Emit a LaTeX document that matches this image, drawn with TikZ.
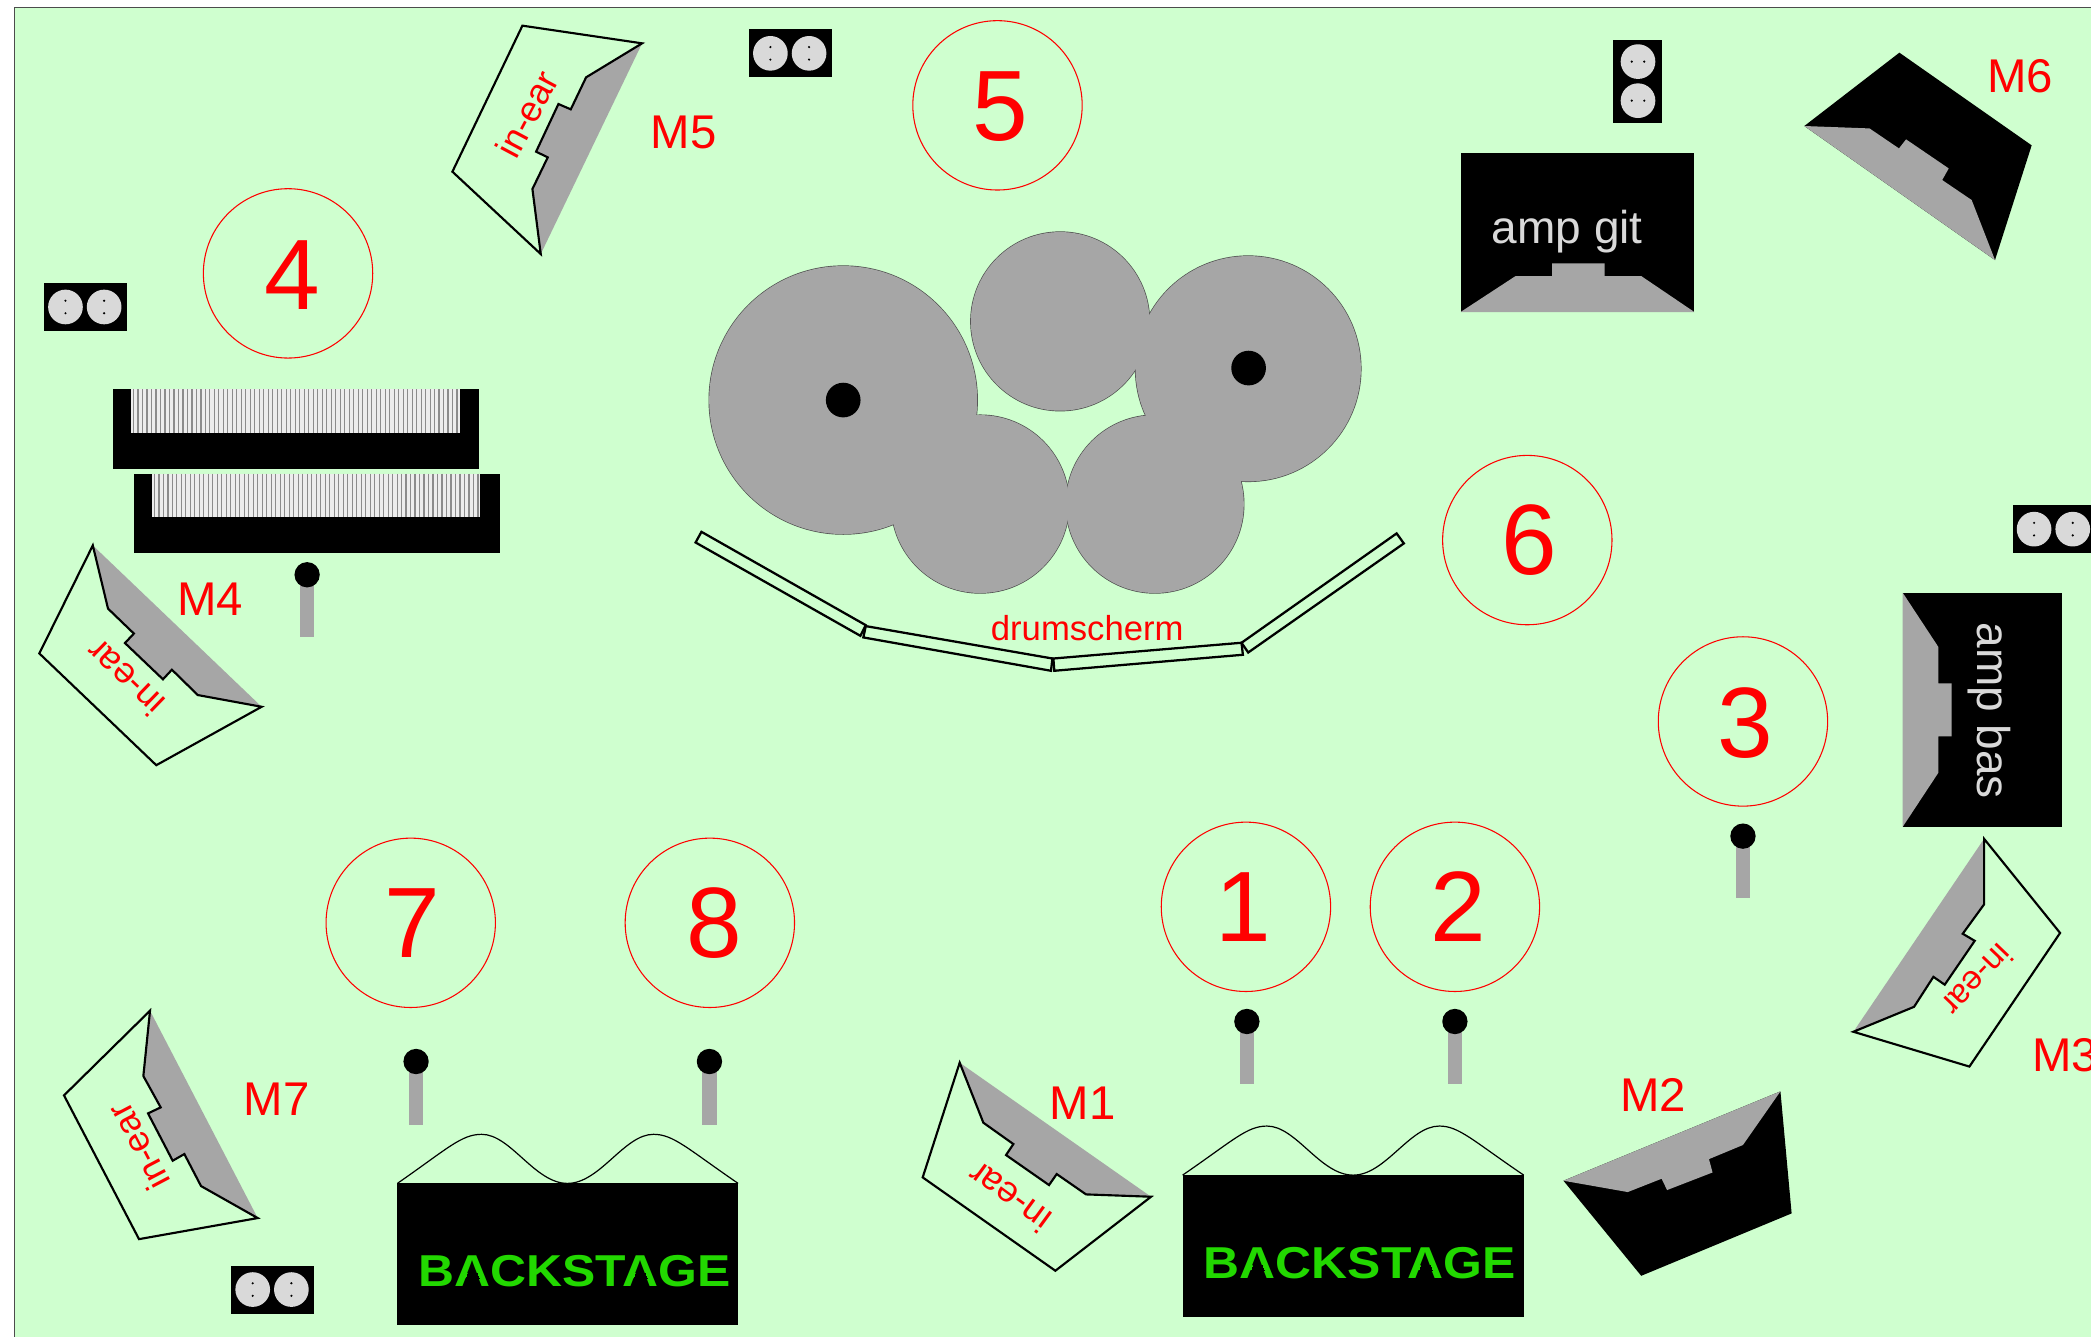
\documentclass[tikz,border=0pt]{standalone}
\usepackage{fontspec}
\setmainfont{Liberation Sans}
\definecolor{stagebg}{HTML}{CFFFCF}
\definecolor{wedgegray}{HTML}{A6A6A6}
\definecolor{plate}{HTML}{D9D9D9}
\definecolor{logogreen}{HTML}{22D800}
\tikzset{
  x=1pt,y=-1pt,
  every node/.style={inner sep=0pt,outer sep=0pt,text=red},
  zonering/.style={draw=red,line width=0.8pt,fill=none},
  zonelabel/.style={font=\fontsize{75}{75}\selectfont},
  monlabel/.style={font=\fontsize{35.5}{35.5}\selectfont},
  earlabel/.style={font=\fontsize{27}{27}\selectfont},
  amplabel/.style={font=\fontsize{34.5}{34.5}\selectfont,text=plate},
  wedgeline/.style={draw=black,line width=1.6pt,line join=miter,fill=none},
  wedgefill/.style={fill=wedgegray,draw=none},
  blackbox/.style={fill=black,draw=none},
  hostline/.style={draw=black,line width=0.9pt},
  logotext/.style={font=\fontsize{33.5}{33.5}\bfseries\selectfont,text=logogreen},
  drumedge/.style={draw=black!70,line width=1pt},
  panelline/.style={draw=black,line width=1.7pt,line join=miter}
}
\newcommand{\sliceA}[2]{\makebox[0pt]{\raisebox{#2em}{\textcolor{black}{\rule{#1em}{.024em}}}}}
\newcommand{\logoA}{A\kern-.3595em\sliceA{.277}{.158}\sliceA{.271}{.163}\sliceA{.256}{.183}\sliceA{.240}{.203}\sliceA{.225}{.223}\sliceA{.210}{.243}\sliceA{.195}{.263}\kern.3595em}
\newcommand{\outletH}[2]{%
  \fill[black] (#1,#2) rectangle ++(62,36);
  \foreach \dx in {16,45}{
    \fill[plate] (#1+\dx,#2+18) circle (13);
    \fill[black] (#1+\dx,#2+13.3) circle (0.9);
    \fill[black] (#1+\dx,#2+22.7) circle (0.9);
  }}
\newcommand{\micstand}[3]{%
  \fill[wedgegray] (#1-5.5,#2) rectangle (#1+5.5,#3);
  \fill[black] (#1,#2) circle (9.5);}
\newcommand{\keybed}[7]{%
  \fill[black] (#1,#2) rectangle (#3,#4);
  \fill[white!93!black] (#5,#2) rectangle (#6,#7);
  \begin{scope}
    \clip (#5,#2) rectangle (#6,#7);
    \foreach \n in {0,...,75}{
      \draw[black!45,line width=0.9pt] (#5+2+3.37*\n,#2) -- (#5+2+3.37*\n,#7);
    }
  \end{scope}}
\begin{document}
\begin{tikzpicture}
\useasboundingbox (0,0) rectangle (1568,1002.56);
\fill[white] (0,0) rectangle (1568,1002.56);
\begin{scope}
\clip (0,0) rectangle (1568,1002.56);
\draw[fill=stagebg,draw=black!70,line width=1pt] (11,5.5) rectangle (1590,1020);

% drum kit
\foreach \cx/\cy/\r in {632.3/300/100.5,795/241/67,936/276.5/84.5,735/378/66.7,866/378/66.7}
  \draw[drumedge] (\cx,\cy) circle (\r);
\foreach \cx/\cy/\r in {632.3/300/100.5,795/241/67,936/276.5/84.5,735/378/66.7,866/378/66.7}
  \fill[wedgegray] (\cx,\cy) circle (\r);
\fill[black] (632.3,300) circle (13);
\fill[black] (936.3,276) circle (13);

% drum screen
\draw[panelline] (526,398.8) -- (649.2,468.8) -- (645.2,476.8) -- (521.6,406.8) -- cycle;
\draw[panelline] (649.2,469.5) -- (789.2,493.8) -- (788.1,503) -- (647.4,478) -- cycle;
\draw[panelline] (789.9,493.8) -- (931,482) -- (932,491) -- (790.6,503) -- cycle;
\draw[panelline] (931,482) -- (1047.3,400) -- (1052.7,407.5) -- (936,489.3) -- cycle;
\node[font=\fontsize{26}{26}\selectfont] (screenlabel) at (815.3,471) {drumscherm};

% zone rings
\foreach \nm/\cx/\cy/\tx/\ty/\t in {
  five/748/79/750/80/5, four/216/205/219/206/4, six/1145.3/405/1146.5/405/6,
  three/1307/541/1308.5/542/3, one/934.3/680/932/680/1, two/1091/680/1093.5/680/2,
  seven/308/692/309/692/7, eight/532.3/692/535.5/692/8}{
  \draw[zonering] (\cx,\cy) circle (63.5);
  \node[zonelabel] (zone\nm) at (\tx,\ty) {\t};
}

% outlets
\outletH{561.7}{22}
\outletH{33.1}{212.2}
\outletH{173.5}{949}
\outletH{1509.3}{378.8}
\fill[black] (1209.8,30) rectangle (1246.2,92.3);
\foreach \cy in {46.2,75.5}{
  \fill[plate] (1228.3,\cy) circle (13);
  \fill[black] (1223.6,\cy) circle (0.9);
  \fill[black] (1233,\cy) circle (0.9);
}

% keyboards
\keybed{85}{292}{358.9}{351.4}{98.1}{344.8}{324.6}
\keybed{100.4}{355.1}{374.6}{414.9}{113.8}{360.2}{387.8}

% mic stands
\micstand{230.3}{431}{477.5}
\micstand{1307}{627}{673.5}
\micstand{935}{766}{813}
\micstand{1091}{766}{813}
\micstand{312}{796}{843.5}
\micstand{532}{796}{843.5}

% amp git
\fill[blackbox] (1095.2,115) rectangle (1270.6,234);
\fill[wedgefill] (1095.2,234) -- (1136.5,207) -- (1163.9,207) -- (1163.9,197.5) -- (1203.2,197.5) -- (1203.2,207) -- (1230.7,207) -- (1270.6,234) -- cycle;
\node[amplabel] (ampgit) at (1175.3,174) {amp git};

% amp bas
\fill[blackbox] (1426.8,444.5) rectangle (1546,620);
\fill[wedgefill] (1426.8,444.5) -- (1453.5,485.1) -- (1453.5,512.4) -- (1463.5,512.4) -- (1463.5,552.2) -- (1453.5,552.2) -- (1453.5,579.5) -- (1426.8,620) -- cycle;
\node[amplabel,rotate=-90] (ampbas) at (1492,533) {amp bas};

% M5
\fill[wedgefill] (481.5,32.5) -- (439.5,58) -- (428,82) -- (418.75,78) -- (402,113.75) -- (410.75,118) -- (399.25,141.75) -- (405.5,190.5) -- cycle;
\draw[wedgeline] (481.5,32.5) -- (391.75,19.25) -- (339.25,128.75) -- (405.5,190.5) -- (399.25,141.75) -- (410.75,118) -- (402,113.75) -- (418.75,78) -- (428,82) -- (439.5,58) -- cycle;
\node[earlabel,rotate=62] (ear5) at (395,85.5) {in-ear};
\node[monlabel] (m5) at (512.5,99) {M5};

% M4
\fill[wedgefill] (69.6,409) -- (196.2,530) -- (148.3,521.2) -- (128.9,502.2) -- (122.2,509.4) -- (93.7,482.2) -- (100.4,475.1) -- (81,456.4) -- cycle;
\draw[wedgeline] (69.6,409) -- (29.5,490) -- (117.2,573.8) -- (196.2,530) -- (148.3,521.2) -- (128.9,502.2) -- (122.2,509.4) -- (93.7,482.2) -- (100.4,475.1) -- (81,456.4) -- cycle;
\node[earlabel,rotate=136] (ear4) at (93.7,508.5) {in-ear};
\node[monlabel] (m4) at (157.5,449.5) {M4};

% M7
\fill[wedgefill] (112.5,757.9) -- (193.25,913.4) -- (150.75,889.4) -- (138.25,865.4) -- (129.5,870.4) -- (111,834.9) -- (120.5,830.4) -- (107.5,806.9) -- cycle;
\draw[wedgeline] (112.5,757.9) -- (48,821.4) -- (104.25,929.2) -- (193.25,913.4) -- (150.75,889.4) -- (138.25,865.4) -- (129.5,870.4) -- (111,834.9) -- (120.5,830.4) -- (107.5,806.9) -- cycle;
\node[earlabel,rotate=117.7] (ear7) at (103.75,859.9) {in-ear};
\node[monlabel] (m7) at (207.5,824.5) {M7};

% M1
\fill[wedgefill] (719.65,796.9) -- (863.15,897.4) -- (814.4,895.65) -- (792.4,880.4) -- (786.65,888.65) -- (754.4,866.15) -- (759.9,857.9) -- (737.4,841.9) -- cycle;
\draw[wedgeline] (719.65,796.9) -- (691.9,882.9) -- (791.4,952.9) -- (863.15,897.4) -- (814.4,895.65) -- (792.4,880.4) -- (786.65,888.65) -- (754.4,866.15) -- (759.9,857.9) -- (737.4,841.9) -- cycle;
\node[earlabel,rotate=143.8] (ear1) at (756.9,898) {in-ear};
\node[monlabel] (m1) at (812,827.5) {M1};

% M3
\fill[wedgefill] (1487.8,629) -- (1487.8,678.2) -- (1471.8,700.2) -- (1480.8,705.5) -- (1458.3,738.4) -- (1449.8,732.5) -- (1435.3,755) -- (1389.8,773.7) -- cycle;
\draw[wedgeline] (1487.8,629) -- (1544.8,699.6) -- (1476.8,799.8) -- (1389.8,773.7) -- (1435.3,755) -- (1449.8,732.5) -- (1458.3,738.4) -- (1480.8,705.5) -- (1471.8,700.2) -- (1487.8,678.2) -- cycle;
\node[rotate=226.3,font=\fontsize{25}{25}\selectfont] (ear3) at (1483,735) {in-ear};
\node[monlabel] (m3) at (1548.5,791.5) {M3};

% M6
\fill[blackbox] (1424.3,39.5) -- (1523.5,109) -- (1496,195) -- (1353,94.5) -- cycle;
\fill[wedgefill] (1353,94.5) -- (1401.9,96.3) -- (1424,111.3) -- (1429.3,104.5) -- (1461.3,126.3) -- (1456.4,135) -- (1478.5,150) -- (1496,195) -- cycle;
\node[monlabel] (m6) at (1515,57) {M6};

% M2
\fill[blackbox] (1172.4,885.4) -- (1335.1,818.4) -- (1343.5,909.9) -- (1230.7,956.7) -- cycle;
\fill[wedgefill] (1172.4,885.4) -- (1335.1,818.4) -- (1307,858.6) -- (1281.5,869.2) -- (1284.2,879.2) -- (1250.1,892.4) -- (1246,883.9) -- (1220.6,893.9) -- cycle;
\node[monlabel] (m2) at (1239.5,821) {M2};

% backstage, right
\fill[blackbox] (886.8,881.2) rectangle (1142.6,987.4);
\draw[hostline] (886.8,881.2) .. controls (925,855) and (935,844.4) .. (950.1,844.4) .. controls (972,844.4) and (990,881.2) .. (1014.7,881.2) .. controls (1039,881.2) and (1057,844.4) .. (1079.3,844.4) .. controls (1094,844.4) and (1104,855) .. (1142.6,881.2);
\node[logotext] (logoright) at (1019.7,947) {\scalebox{1.116}[1]{B\logoA CKST\logoA GE}};

% backstage, left
\fill[blackbox] (298,887.4) rectangle (553.5,993.6);
\draw[hostline] (298,887.4) .. controls (336,861) and (346,850.6) .. (361.2,850.6) .. controls (383,850.6) and (401,887.4) .. (425.5,887.4) .. controls (450,887.4) and (468,850.6) .. (490,850.6) .. controls (505,850.6) and (515,861) .. (553.5,887.4);
\node[logotext] (logoleft) at (430.9,953) {\scalebox{1.116}[1]{B\logoA CKST\logoA GE}};
\end{scope}
\end{tikzpicture}
\end{document}
